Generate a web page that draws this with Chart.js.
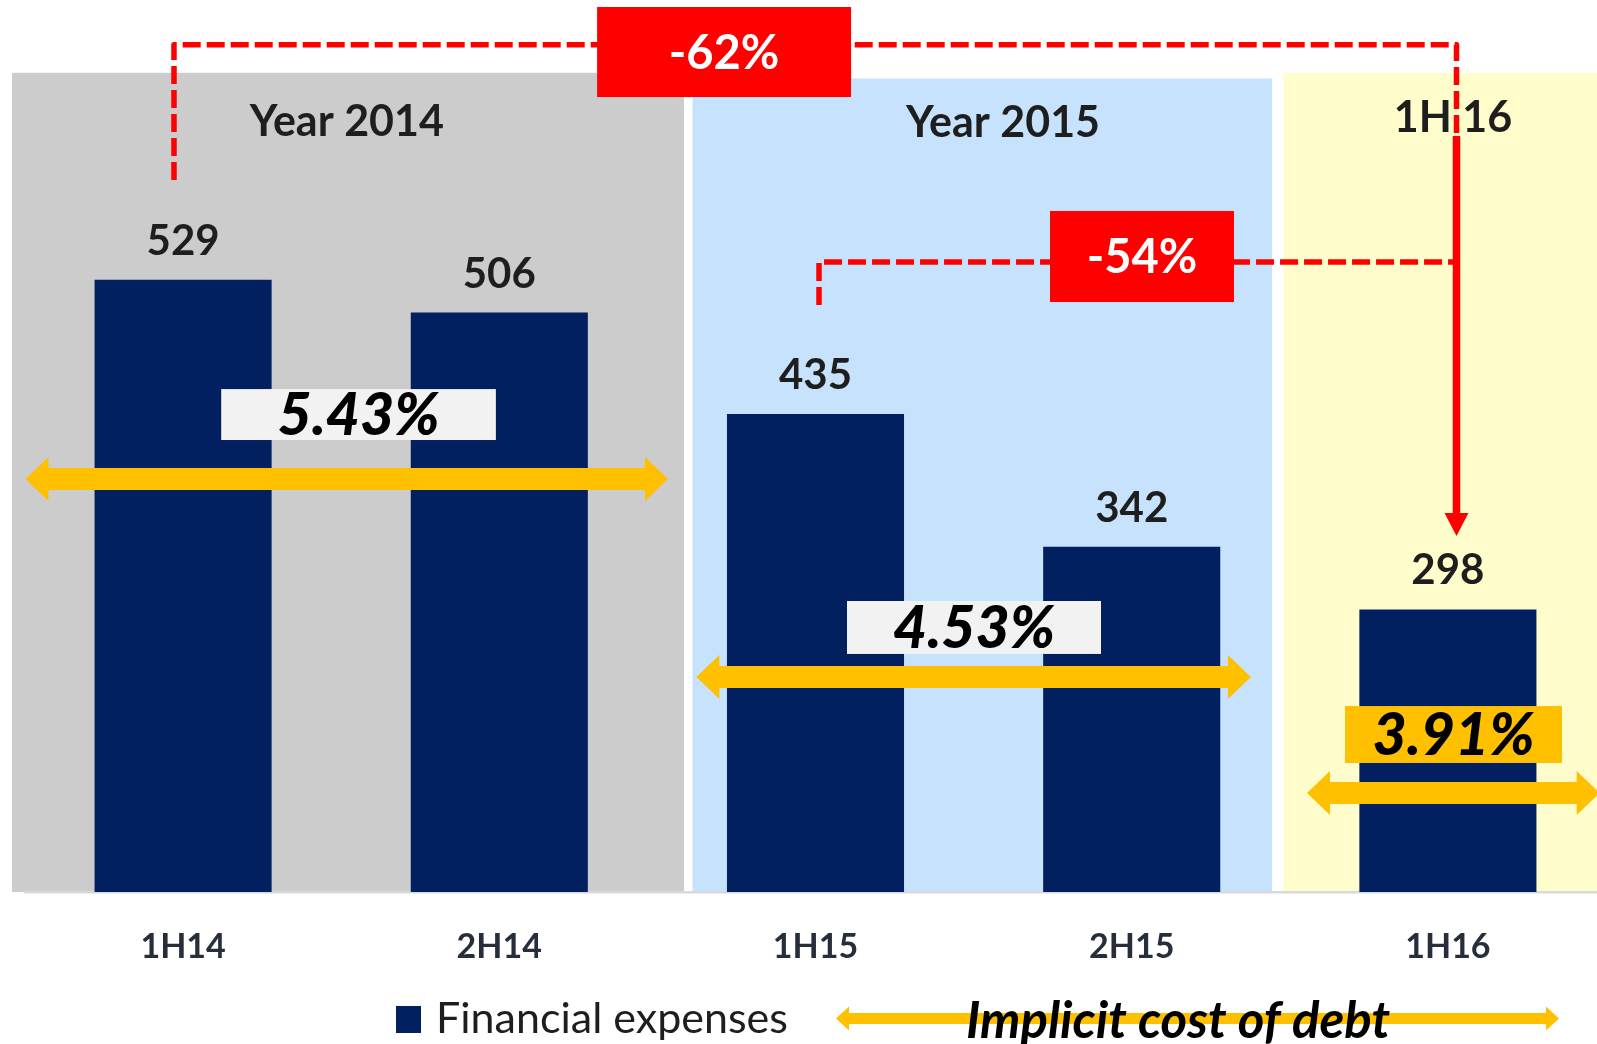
<!DOCTYPE html>
<html><head><meta charset="utf-8">
<script src="https://cdn.jsdelivr.net/npm/chart.js@4.4.1/dist/chart.umd.min.js"></script>
<style>
html,body{margin:0;padding:0;background:#fff;overflow:hidden;}
#wrap{width:1606px;height:1044px;}
</style></head><body>
<div id="wrap"><canvas id="c" width="1606" height="1044"></canvas></div>
<script>
// ---- data ----
const categories = ['1H14', '2H14', '1H15', '2H15', '1H16'];
const financialExpenses = [529, 506, 435, 342, 298];
const seriesName = 'Financial expenses';
const costOfDebt = ['5.43%', '4.53%', '3.91%'];
const costOfDebtName = 'Implicit cost of debt';
const periodGroups = ['Year 2014', 'Year 2015', '1H 16'];
const changeLabels = ['-62%', '-54%'];
const yMin = 100, yMax = 700;

// ---- annotation geometry, in data units (x = category index, y = value) ----
const panels = [
  { x0: -0.541, x1: 1.584, top: 674, color: '#CCCCCC', lx: 0.518, ly: 629.7 },
  { x0: 1.611, x1: 3.444, top: 670, color: '#C6E2FC', lx: 2.593, ly: 629.0 },
  { x0: 3.480, x1: 4.700, top: 674, color: '#FFFDCC', lx: 4.016, ly: 632.7 }
];
const rateGeo = [
  { x0: 0.1205, x1: 0.9892, top: 452.4, bot: 416.7, fill: '#F2F2F2', ax0: -0.4984, ax1: 1.5335, ay: 389.4 },
  { x0: 2.0996, x1: 2.9029, top: 303.9, bot: 266.8, fill: '#F2F2F2', ax0: 1.6233, ax1: 3.3770, ay: 250.6 },
  { x0: 3.6746, x1: 4.3609, top: 230.3, bot: 190.4, fill: '#FFC000', ax0: 3.5544, ax1: 4.4800, ay: 169.4 }
];
const bracketGeo = {
  lineX: 4.0272,
  b1: { x: -0.0288, y0: 598.9, y1: 693.7, dashEnd: 631.8, solidStart: 629.8, headBase: 365.6, tip: 349.4,
        bx0: 1.3093, bx1: 2.1125, btop: 720.1, bbot: 657.0 },
  b2: { x: 2.0111, y0: 511.3, y1: 541.4, bx0: 2.7416, bx1: 3.3235, btop: 577.2, bbot: 513.4 }
};

const NAVY = '#02205F', RED = '#FF0000', GOLD = '#FFC000';
const TXT = '#1E1E1E';

function dblArrow(ctx, xL, xR, yc, shaft, headH, headL) {
  ctx.beginPath();
  ctx.moveTo(xL, yc);
  ctx.lineTo(xL + headL, yc - headH / 2);
  ctx.lineTo(xL + headL, yc - shaft / 2);
  ctx.lineTo(xR - headL, yc - shaft / 2);
  ctx.lineTo(xR - headL, yc - headH / 2);
  ctx.lineTo(xR, yc);
  ctx.lineTo(xR - headL, yc + headH / 2);
  ctx.lineTo(xR - headL, yc + shaft / 2);
  ctx.lineTo(xL + headL, yc + shaft / 2);
  ctx.lineTo(xL + headL, yc + headH / 2);
  ctx.closePath();
  ctx.fill();
}

const decor = {
  id: 'decor',
  beforeDraw(chart) {
    const ctx = chart.ctx, xs = chart.scales.x, ys = chart.scales.y;
    const X = v => xs.getPixelForValue(v), Y = v => ys.getPixelForValue(v);
    ctx.save();
    panels.forEach((p) => {
      ctx.fillStyle = p.color;
      ctx.fillRect(X(p.x0), Y(p.top), X(p.x1) - X(p.x0), Y(yMin) - Y(p.top));
    });
    ctx.fillStyle = TXT;
    ctx.font = 'bold 43px Lato';
    ctx.textAlign = 'center';
    ctx.textBaseline = 'alphabetic';
    panels.forEach((p, i) => ctx.fillText(periodGroups[i], X(p.lx), Y(p.ly)));
    ctx.restore();
  },
  afterDatasetsDraw(chart) {
    const ctx = chart.ctx, xs = chart.scales.x, ys = chart.scales.y;
    const X = v => xs.getPixelForValue(v), Y = v => ys.getPixelForValue(v);
    ctx.save();
    // value labels
    const meta = chart.getDatasetMeta(0);
    ctx.fillStyle = TXT;
    ctx.font = 'bold 42px Lato';
    ctx.textAlign = 'center';
    ctx.textBaseline = 'alphabetic';
    meta.data.forEach((bar, i) => ctx.fillText(String(financialExpenses[i]), bar.x, bar.y - 25));

    // red brackets
    const g = bracketGeo, lx = X(g.lineX);
    ctx.strokeStyle = RED;
    ctx.lineJoin = 'round';
    ctx.lineWidth = 5.5;
    ctx.setLineDash([18, 6]);
    ctx.beginPath();
    ctx.moveTo(X(g.b1.x), Y(g.b1.y0));
    ctx.lineTo(X(g.b1.x), Y(g.b1.y1));
    ctx.lineTo(lx, Y(g.b1.y1));
    ctx.lineTo(lx, Y(g.b1.dashEnd));
    ctx.stroke();
    ctx.beginPath();
    ctx.moveTo(X(g.b2.x), Y(g.b2.y0));
    ctx.lineTo(X(g.b2.x), Y(g.b2.y1));
    ctx.lineTo(lx, Y(g.b2.y1));
    ctx.stroke();
    ctx.setLineDash([]);
    ctx.lineWidth = 7.5;
    ctx.beginPath();
    ctx.moveTo(lx, Y(g.b1.solidStart));
    ctx.lineTo(lx, Y(g.b1.headBase) + 1);
    ctx.stroke();
    ctx.fillStyle = RED;
    ctx.beginPath();
    ctx.moveTo(lx - 12, Y(g.b1.headBase));
    ctx.lineTo(lx + 12, Y(g.b1.headBase));
    ctx.lineTo(lx, Y(g.b1.tip));
    ctx.closePath();
    ctx.fill();
    // red boxes
    [g.b1, g.b2].forEach((b, i) => {
      ctx.fillStyle = RED;
      const x0 = X(b.bx0), x1 = X(b.bx1), y0 = Y(b.btop), y1 = Y(b.bbot);
      ctx.fillRect(x0, y0, x1 - x0, y1 - y0);
      ctx.fillStyle = '#FFFFFF';
      ctx.font = 'bold 47px Lato';
      ctx.fillText(changeLabels[i], (x0 + x1) / 2, (y0 + y1) / 2 + 0.358 * 47);
    });

    // cost of debt arrows + boxes
    rateGeo.forEach((r, i) => {
      ctx.fillStyle = GOLD;
      dblArrow(ctx, X(r.ax0), X(r.ax1), Y(r.ay), 22, 44, 23);
      const x0 = X(r.x0), x1 = X(r.x1), y0 = Y(r.top), y1 = Y(r.bot);
      ctx.fillStyle = r.fill;
      ctx.fillRect(x0, y0, x1 - x0, y1 - y0);
      ctx.fillStyle = '#000000';
      ctx.font = 'italic 900 59px Lato';
      ctx.fillText(costOfDebt[i], (x0 + x1) / 2, (y0 + y1) / 2 + 0.358 * 57);
    });

    // legend
    ctx.fillStyle = NAVY;
    ctx.fillRect(396, 1006, 25, 27);
    ctx.fillStyle = TXT;
    ctx.font = '43px Lato';
    ctx.textAlign = 'left';
    ctx.fillText(chart.data.datasets[0].label, 436, 1033);
    ctx.fillStyle = GOLD;
    dblArrow(ctx, 836, 1559, 1018.5, 11, 24, 13);
    ctx.fillStyle = '#000000';
    ctx.font = 'italic bold 51px Lato';
    ctx.textAlign = 'center';
    ctx.fillText(costOfDebtName, 1178, 1038);
    ctx.restore();
  }
};

function build() {
  new Chart(document.getElementById('c'), {
    type: 'bar',
    data: {
      labels: categories,
      datasets: [{
        label: seriesName,
        data: financialExpenses,
        backgroundColor: NAVY,
        borderWidth: 0,
        barPercentage: 0.56,
        categoryPercentage: 1.0
      }]
    },
    options: {
      responsive: false,
      devicePixelRatio: 1,
      animation: false,
      events: [],
      layout: { padding: { top: 35.7, left: 25, right: 0, bottom: 41.2 } },
      plugins: { legend: { display: false }, tooltip: { enabled: false } },
      scales: {
        x: {
          offset: true,
          grid: { display: false, drawTicks: false },
          border: { display: true, color: '#D9D9D9', width: 2.5 },
          ticks: { color: '#262E3B', padding: 35, font: { family: 'Lato', size: 34, weight: 'bold' } }
        },
        y: { display: false, min: yMin, max: yMax }
      }
    },
    plugins: [decor]
  });
}
Promise.all([
  document.fonts.load('bold 40px Lato'),
  document.fonts.load('italic bold 40px Lato'),
  document.fonts.load('italic 900 40px Lato'),
  document.fonts.load('40px Lato')
]).then(build, build);
</script>
</body></html>
